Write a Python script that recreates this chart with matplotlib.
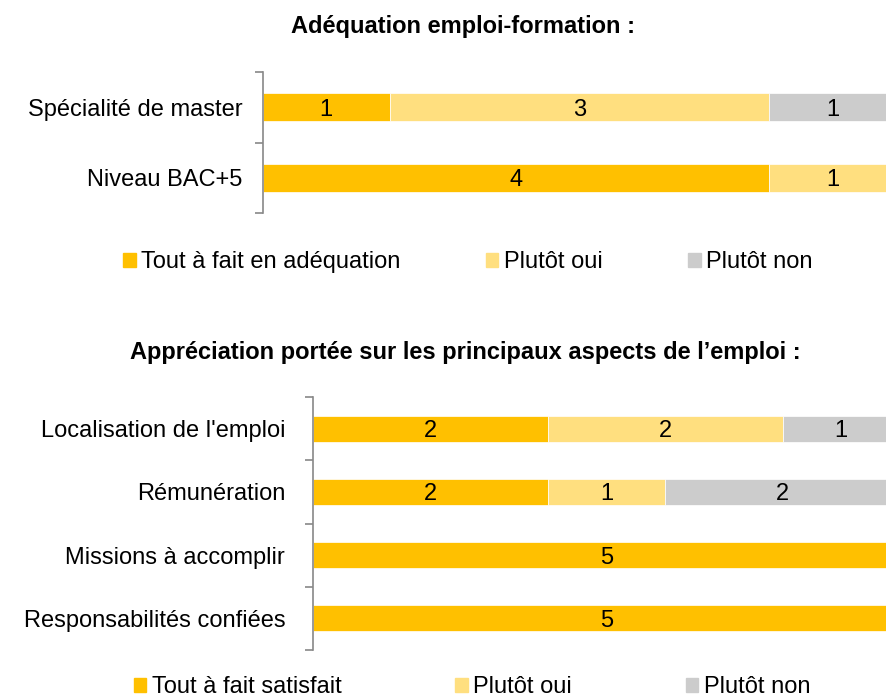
import matplotlib
matplotlib.use("Agg")
import matplotlib.pyplot as plt
import numpy as np
from matplotlib.patches import Patch

plt.rcParams['font.family'] = ['Liberation Sans', 'DejaVu Sans']

# top chart data
cats_top = ["Spécialité de master", "Niveau BAC+5"]
tout_fait_top = [1, 4]
plutot_oui_top = [3, 1]
plutot_non_top = [1, 0]
legend_top = ["Tout à fait en adéquation", "Plutôt oui", "Plutôt non"]
title_top = "Adéquation emploi-formation :"

# bottom chart data
cats_bot = ["Localisation de l'emploi", "Rémunération", "Missions à accomplir",
            "Responsabilités confiées"]
tout_fait_bot = [2, 2, 5, 5]
plutot_oui_bot = [2, 1, 0, 0]
plutot_non_bot = [1, 2, 0, 0]
legend_bot = ["Tout à fait satisfait", "Plutôt oui", "Plutôt non"]
title_bot = "Appréciation portée sur les principaux aspects de l\u2019emploi :"

colors = ["#FFC000", "#FFDF7F", "#CCCCCC"]
W, H = 886, 696
FS = 17


def px_axes(fig, x0, x1, y0, y1):
    return fig.add_axes([x0 / W, 1 - y1 / H, (x1 - x0) / W, (y1 - y0) / H])


def draw(ax, cats, series, bar_h, pad):
    y = np.arange(len(cats))
    left = np.zeros(len(cats))
    for vals, c in zip(series, colors):
        vals = np.array(vals, dtype=float)
        bars = ax.barh(y, vals, left=left, height=bar_h, color=c,
                       edgecolor="white", linewidth=0.5)
        labels = [str(int(v)) if v > 0 else "" for v in vals]
        txts = ax.bar_label(bars, labels=labels, label_type="center", fontsize=FS)
        for t in txts:
            t.set_va("center_baseline")
        left += vals
    ax.set_xlim(0, 5)
    ax.set_ylim(len(cats) - 0.5, -0.5)
    ax.set_yticks(y)
    ax.set_yticklabels(cats, fontsize=FS)
    ax.set_yticks(np.arange(len(cats) + 1) - 0.5, minor=True)
    ax.tick_params(axis="y", which="major", length=0, pad=pad)
    ax.tick_params(axis="y", which="minor", length=6, width=1.2, color="#888888")
    ax.set_xticks([])
    for s in ["top", "right", "bottom"]:
        ax.spines[s].set_visible(False)
    ax.spines["left"].set_color("#888888")
    ax.spines["left"].set_linewidth(1.2)


fig = plt.figure(figsize=(W / 100, H / 100), dpi=100)

ax1 = px_axes(fig, 263, 896, 72, 213)
draw(ax1, cats_top, [tout_fait_top, plutot_oui_top, plutot_non_top], 0.4, 15)
ax2 = px_axes(fig, 313, 900, 397, 650)
draw(ax2, cats_bot, [tout_fait_bot, plutot_oui_bot, plutot_non_bot], 0.41, 20)

fig.text(463 / W, 1 - 27 / H, title_top, ha="center", va="center",
         fontsize=FS, fontweight="bold")
fig.text(465 / W, 1 - 352 / H, title_bot, ha="center", va="center",
         fontsize=FS, fontweight="bold")

for labels, cx, cy, cs in [(legend_top, 468, 262, 3.6), (legend_bot, 472, 687, 4.8)]:
    handles = [Patch(color=c, label=l) for c, l in zip(colors, labels)]
    fig.legend(handles=handles, loc="center", bbox_to_anchor=(cx / W, 1 - cy / H),
               ncol=3, frameon=False, fontsize=FS, handlelength=0.53,
               handleheight=0.53, handletextpad=0.25, columnspacing=cs,
               borderpad=0, borderaxespad=0)

fig.savefig("out.png", dpi=100)
